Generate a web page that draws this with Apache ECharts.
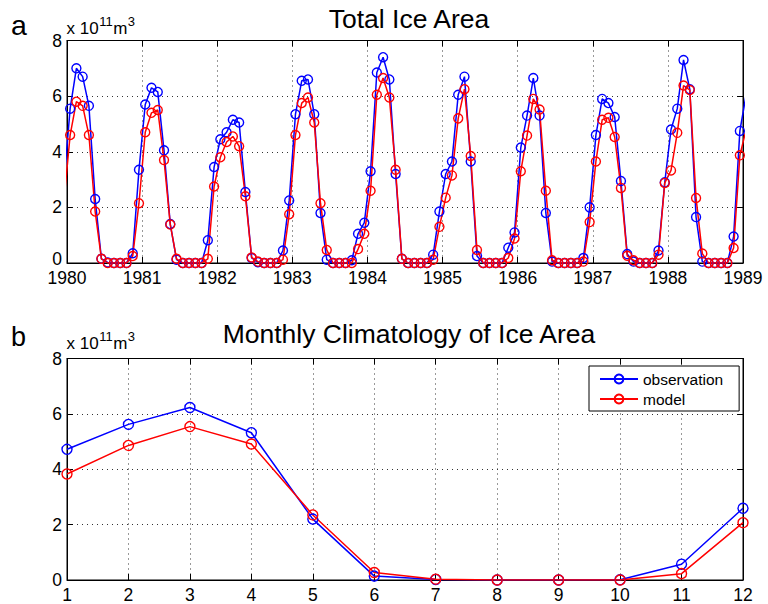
<!DOCTYPE html>
<html>
<head>
<meta charset="utf-8">
<script src="https://cdn.jsdelivr.net/npm/echarts@6/dist/echarts.min.js"></script>
<style>
html,body{margin:0;padding:0;background:#fff;}
#chart{width:768px;height:604px;}
</style>
</head>
<body>
<div id="chart"></div>
<script>
// ---------- DATA ----------
// Monthly series begins December 1979 and ends January 1989 (edges are clipped by the axis range)
var seriesStartYear = 1979;
var seriesStartMonth = 12;
var obsIce = [
  2.85,
  5.55, 7.00, 6.70, 5.65, 2.30, 0.15, 0.02, 0, 0, 0, 0.35, 3.35,   // 1980
  5.70, 6.30, 6.15, 4.05, 1.40, 0.12, 0, 0, 0, 0, 0.82, 3.45,      // 1981
  4.45, 4.70, 5.15, 5.05, 2.55, 0.18, 0.03, 0, 0, 0, 0.45, 2.25,   // 1982
  5.35, 6.55, 6.60, 5.35, 1.80, 0.12, 0, 0, 0, 0.10, 1.05, 1.45,   // 1983
  3.30, 6.85, 7.40, 6.60, 3.20, 0.15, 0, 0, 0, 0, 0.30, 1.85,      // 1984
  3.20, 3.65, 6.05, 6.70, 3.65, 0.25, 0, 0, 0, 0, 0.55, 1.10,      // 1985
  4.15, 5.30, 6.65, 5.30, 1.80, 0.05, 0, 0, 0, 0, 0.18, 2.00,      // 1986
  4.60, 5.90, 5.75, 5.25, 2.95, 0.32, 0.05, 0, 0, 0, 0.45, 2.90,   // 1987
  4.80, 5.55, 7.30, 6.25, 1.65, 0.05, 0, 0, 0, 0, 0.95, 4.75,      // 1988
  6.05
];
var modelIce = [
  2.20,
  4.60, 5.80, 5.65, 4.60, 1.85, 0.15, 0, 0, 0, 0, 0.25, 2.15,      // 1980
  4.70, 5.40, 5.50, 3.70, 1.38, 0.15, 0, 0, 0, 0, 0.15, 2.75,      // 1981
  3.80, 4.35, 4.55, 4.20, 2.40, 0.20, 0.05, 0, 0, 0, 0.12, 1.75,   // 1982
  4.60, 5.75, 5.95, 5.05, 2.15, 0.47, 0, 0, 0, 0, 0.50, 1.05,      // 1983
  2.60, 6.05, 6.65, 5.95, 3.35, 0.15, 0, 0, 0, 0, 0.12, 1.30,      // 1984
  2.35, 3.15, 5.20, 6.25, 3.85, 0.47, 0, 0, 0, 0, 0.18, 0.88,      // 1985
  3.30, 4.58, 5.90, 5.52, 2.60, 0.10, 0, 0, 0, 0, 0.05, 1.47,      // 1986
  3.65, 5.15, 5.22, 4.53, 2.70, 0.26, 0.10, 0, 0, 0, 0.30, 2.88,   // 1987
  3.33, 4.68, 6.38, 6.22, 2.34, 0.34, 0, 0, 0, 0, 0.54, 3.87,      // 1988
  4.80
];
var climMonths = [1, 2, 3, 4, 5, 6, 7, 8, 9, 10, 11, 12];
var climObs   = [4.72, 5.62, 6.23, 5.32, 2.20, 0.14, 0.02, 0, 0, 0.01, 0.57, 2.59];
var climModel = [3.83, 4.86, 5.54, 4.91, 2.35, 0.27, 0.03, 0, 0, 0, 0.23, 2.07];
var yearTicks = [1980, 1989];     // x range of top panel
var valueTicks = [0, 8, 2];       // y min, max, step
var titleTop = 'Total Ice Area';
var titleBottom = 'Monthly Climatology of Ice Area';
var seriesNames = ['observation', 'model'];

// ---------- BUILD ----------
function monthlyPairs(vals) {
  var out = [];
  for (var i = 0; i < vals.length; i++) {
    var mIdx = seriesStartMonth - 1 + i;
    var yr = seriesStartYear + Math.floor(mIdx / 12);
    var mo = mIdx % 12 + 1;
    out.push([yr + (mo - 0.5) / 12, vals[i]]);
  }
  return out;
}
function pairs(xs, ys) { return xs.map(function (x, i) { return [x, ys[i]]; }); }

var FONT = '"Liberation Sans", Arial, Helvetica, sans-serif';
var BLUE = '#0000ff', RED = '#ff0000';
var TICK_FS = 17.5;

var mctx = document.createElement('canvas').getContext('2d');
function tw(txt, size) { mctx.font = size + 'px "Liberation Sans"'; return mctx.measureText(txt).width; }

function frameAxes(gridIndex, min, max, interval, isX, withLabels, showMin) {
  return {
    gridIndex: gridIndex, type: 'value', min: min, max: max, interval: interval,
    axisLine: { show: true, onZero: false, lineStyle: { color: '#000', width: 1 } },
    axisTick: { show: true, inside: true, length: 6, lineStyle: { color: '#000', width: 1 } },
    axisLabel: withLabels ? {
      show: true, color: '#000', fontSize: TICK_FS, fontFamily: FONT, margin: isX ? 6 : 5,
      showMinLabel: showMin !== false, showMaxLabel: true,
      formatter: function (v) { return String(v); }
    } : { show: false },
    splitLine: withLabels ? { show: true, lineStyle: { color: '#333', width: 1, type: [1, 4] } } : { show: false }
  };
}

function lineSeries(name, color, data, xi, yi, size) {
  return {
    name: name, type: 'line', xAxisIndex: xi, yAxisIndex: yi, data: data,
    symbol: 'circle', symbolSize: size, showAllSymbol: true, clip: true,
    itemStyle: { color: 'rgba(255,255,255,0)', borderColor: color, borderWidth: 1.4 },
    lineStyle: { color: color, width: 1.5 },
    emphasis: { disabled: true }, animation: false, z: 3
  };
}

function unitLabel(x, baseY) {
  var els = [];
  var cx = x;
  var pieces = [['x 10', 17, 0], ['11', 13, -8], ['m', 17, 0], ['3', 13, -8]];
  pieces.forEach(function (p) {
    els.push({
      type: 'text', x: cx, y: baseY + p[2] - 0.35 * p[1],
      style: { text: p[0], fontSize: p[1], fontFamily: FONT, fill: '#000', align: 'left', verticalAlign: 'middle' }
    });
    cx += tw(p[0], p[1]) + 0.5;
  });
  return els;
}

var graphics = [
  { type: 'text', x: 11, y: 35 - 0.35 * 28.5, style: { text: 'a', fontSize: 28.5, fontFamily: FONT, fill: '#000', align: 'left', verticalAlign: 'middle' } },
  { type: 'text', x: 409, y: 28.3 - 0.35 * 26.5, style: { text: titleTop, fontSize: 26.5, fontFamily: FONT, fill: '#000', align: 'center', verticalAlign: 'middle' } },
  { type: 'text', x: 11, y: 346.7 - 0.35 * 27, style: { text: 'b', fontSize: 27, fontFamily: FONT, fill: '#000', align: 'left', verticalAlign: 'middle' } },
  { type: 'text', x: 409, y: 343.3 - 0.35 * 26.5, style: { text: titleBottom, fontSize: 26.5, fontFamily: FONT, fill: '#000', align: 'center', verticalAlign: 'middle' } },
  // lowest value label of the top panel, nudged up slightly so it clears the "1980" label
  { type: 'text', x: 62, y: 259, style: { text: String(valueTicks[0]), fontSize: TICK_FS, fontFamily: FONT, fill: '#000', align: 'right', verticalAlign: 'middle' } }
].concat(unitLabel(66.5, 34.3)).concat(unitLabel(66.5, 349.3));

var option = {
  backgroundColor: '#fff',
  animation: false,
  grid: [
    { left: 67, right: 25, top: 40.5, height: 222.5, show: true, borderColor: '#000', borderWidth: 1, backgroundColor: 'transparent' },
    { left: 67, right: 25, top: 358.5, height: 221.5, show: true, borderColor: '#000', borderWidth: 1, backgroundColor: 'transparent' }
  ],
  xAxis: [
    Object.assign(frameAxes(0, yearTicks[0], yearTicks[1], 1, true, true), { position: 'bottom' }),
    Object.assign(frameAxes(0, yearTicks[0], yearTicks[1], 1, true, false), { position: 'top' }),
    Object.assign(frameAxes(1, climMonths[0], climMonths[climMonths.length - 1], 1, true, true), { position: 'bottom' }),
    Object.assign(frameAxes(1, climMonths[0], climMonths[climMonths.length - 1], 1, true, false), { position: 'top' })
  ],
  yAxis: [
    Object.assign(frameAxes(0, valueTicks[0], valueTicks[1], valueTicks[2], false, true, false), { position: 'left' }),
    Object.assign(frameAxes(0, valueTicks[0], valueTicks[1], valueTicks[2], false, false), { position: 'right' }),
    Object.assign(frameAxes(1, valueTicks[0], valueTicks[1], valueTicks[2], false, true), { position: 'left' }),
    Object.assign(frameAxes(1, valueTicks[0], valueTicks[1], valueTicks[2], false, false), { position: 'right' })
  ],
  legend: {
    data: seriesNames,
    orient: 'vertical', left: 589, top: 366,
    backgroundColor: '#fff', borderColor: '#000', borderWidth: 1,
    padding: [5, 16, 4, 10], itemGap: 4, itemWidth: 38, itemHeight: 11,
    selectedMode: false,
    textStyle: { fontSize: 15.5, fontFamily: FONT, color: '#000', lineHeight: 15 }
  },
  series: [
    lineSeries(seriesNames[0], BLUE, monthlyPairs(obsIce), 0, 0, 9),
    lineSeries(seriesNames[1], RED, monthlyPairs(modelIce), 0, 0, 9),
    lineSeries(seriesNames[0], BLUE, pairs(climMonths, climObs), 2, 2, 10),
    lineSeries(seriesNames[1], RED, pairs(climMonths, climModel), 2, 2, 10)
  ],
  graphic: graphics
};

var chart = echarts.init(document.getElementById('chart'), null, { renderer: 'svg', width: 768, height: 604 });
chart.setOption(option);
</script>
</body>
</html>
